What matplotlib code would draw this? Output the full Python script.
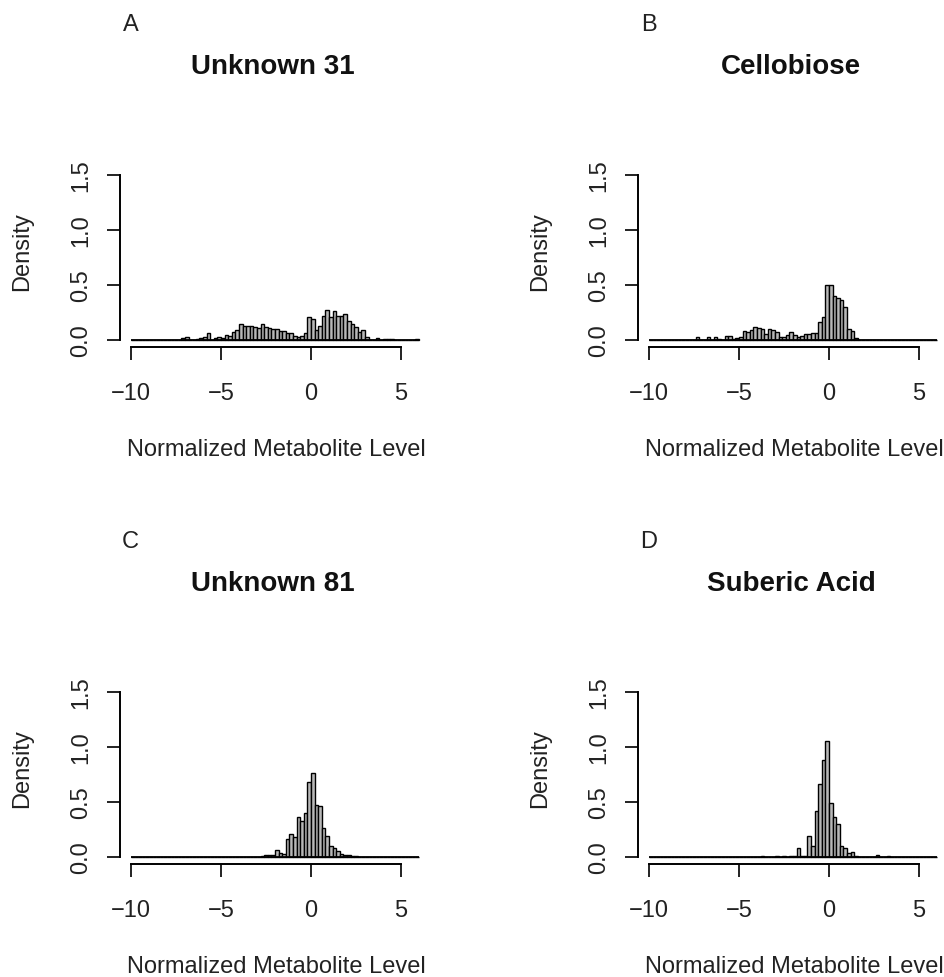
import matplotlib.pyplot as plt
import numpy as np

plt.rcParams['font.family'] = ['Liberation Sans', 'DejaVu Sans']

# histogram breaks shared by all four panels
BIN_WIDTH = 0.2
BREAK_MIN, BREAK_MAX = -10, 6

titles = ["Unknown 31", "Cellobiose", "Unknown 81", "Suberic Acid"]
letters = ["A", "B", "C", "D"]
x_ticks = [-10, -5, 0, 5]
y_ticks = [0.0, 0.5, 1.0, 1.5]
y_tick_labels = ["0.0", "0.5", "1.0", "1.5"]

# densities per bin, starting at the given left edge
unknown31_start = -7.2
unknown31_density = [
    0.02, 0.03, 0.0, 0.0, 0.01, 0.02, 0.03, 0.06, 0.0, 0.02,
    0.03, 0.02, 0.05, 0.04, 0.07, 0.09, 0.15, 0.13, 0.13, 0.13,
    0.12, 0.11, 0.15, 0.12, 0.11, 0.10, 0.10, 0.08, 0.08, 0.06,
    0.06, 0.04, 0.03, 0.04, 0.06, 0.21, 0.19, 0.09, 0.13, 0.22,
    0.27, 0.21, 0.26, 0.22, 0.22, 0.24, 0.17, 0.15, 0.12, 0.07,
    0.09, 0.03, 0.0, 0.0, 0.02, 0.0, 0.01, 0.01, 0.01, 0.0,
    0.0, 0.0, 0.0, 0.0, 0.0, 0.01,
]

cellobiose_start = -7.4
cellobiose_density = [
    0.025, 0.0, 0.0, 0.025, 0.0, 0.025, 0.01, 0.0, 0.04, 0.04,
    0.01, 0.02, 0.03, 0.085, 0.07, 0.09, 0.12, 0.11, 0.10, 0.055,
    0.10, 0.09, 0.07, 0.025, 0.03, 0.05, 0.07, 0.05, 0.025, 0.04,
    0.055, 0.055, 0.06, 0.065, 0.16, 0.21, 0.50, 0.50, 0.40, 0.38,
    0.36, 0.30, 0.10, 0.085, 0.015,
]

unknown81_start = -2.8
unknown81_density = [
    0.01, 0.015, 0.015, 0.02, 0.06, 0.04, 0.03, 0.16, 0.21, 0.18,
    0.36, 0.33, 0.40, 0.68, 0.76, 0.47, 0.46, 0.26, 0.19, 0.10,
    0.08, 0.055, 0.03, 0.015, 0.015, 0.01, 0.01,
]

suberic_start = -3.8
suberic_density = [
    0.01, 0.0, 0.0, 0.0, 0.01, 0.0, 0.01, 0.0, 0.01, 0.01,
    0.085, 0.01, 0.01, 0.19, 0.10, 0.42, 0.66, 0.88, 1.05, 0.49,
    0.36, 0.30, 0.10, 0.085, 0.04, 0.045, 0.01, 0.0, 0.0, 0.0,
    0.0, 0.0, 0.02, 0.0, 0.0, 0.01,
]

panels = [
    (unknown31_start, unknown31_density),
    (cellobiose_start, cellobiose_density),
    (unknown81_start, unknown81_density),
    (suberic_start, suberic_density),
]

W, H = 944, 978
fig = plt.figure(figsize=(W / 100, H / 100), dpi=100)


def px_rect(left, top, right, bottom):
    return [left / W, 1 - bottom / H, (right - left) / W, (bottom - top) / H]


def px_text(x, y, s, **kw):
    fig.text(x / W, 1 - y / H, s, ha='center', va='center', **kw)


breaks = np.round(np.arange(BREAK_MIN, BREAK_MAX + BIN_WIDTH / 2, BIN_WIDTH), 3)
n_bins = len(breaks) - 1

col_left = [119.5, 637.5]
row_top = [169.4, 686.4]
ax_w, ax_h = 311, 178.2

for i, (start, dens) in enumerate(panels):
    r, c = divmod(i, 2)
    left, top = col_left[c], row_top[r]
    ax = fig.add_axes(px_rect(left, top, left + ax_w, top + ax_h))

    heights = np.zeros(n_bins)
    k = int(round((start - BREAK_MIN) / BIN_WIDTH))
    heights[k:k + len(dens)] = dens
    ax.bar(breaks[:-1], heights, width=BIN_WIDTH, align='edge',
           color='#b8b8b8', edgecolor='black', linewidth=1.0)
    # R draws the empty bins too, which gives a solid base line
    ax.hlines(0, BREAK_MIN, BREAK_MAX, color='black', linewidth=1.3, zorder=3)

    ax.set_xlim(-10.64, 6.64)
    ax.set_ylim(-0.06, 1.56)
    for s in ['top', 'right']:
        ax.spines[s].set_visible(False)
    ax.spines['left'].set_bounds(0, 1.5)
    ax.spines['bottom'].set_bounds(-10, 5)
    for s in ['left', 'bottom']:
        ax.spines[s].set_linewidth(1.4)
    ax.set_xticks(x_ticks)
    ax.set_xticklabels([str(t).replace('-', '\u2212') for t in x_ticks])
    ax.set_yticks(y_ticks)
    ax.set_yticklabels(y_tick_labels, rotation=90, va='center')
    ax.tick_params(axis='both', length=9.5, width=1.4, labelsize=17,
                   color='#222222', labelcolor='#222222')
    ax.tick_params(axis='x', pad=16)
    ax.tick_params(axis='y', pad=10)

    cx = left + ax_w / 2
    dy = 517 * r
    px_text(cx - 2, 67 + dy, titles[i], fontsize=20, fontweight='bold', color='#111111')
    px_text(left + 11, 25 + dy, letters[i], fontsize=17, color='#222222')
    px_text(cx + 1, 450 + dy, "Normalized Metabolite Level", fontsize=17, color='#222222')
    px_text(left - 97, 252 + dy, "Density", fontsize=17, rotation=90, color='#222222')

fig.savefig("out.png", dpi=100)
